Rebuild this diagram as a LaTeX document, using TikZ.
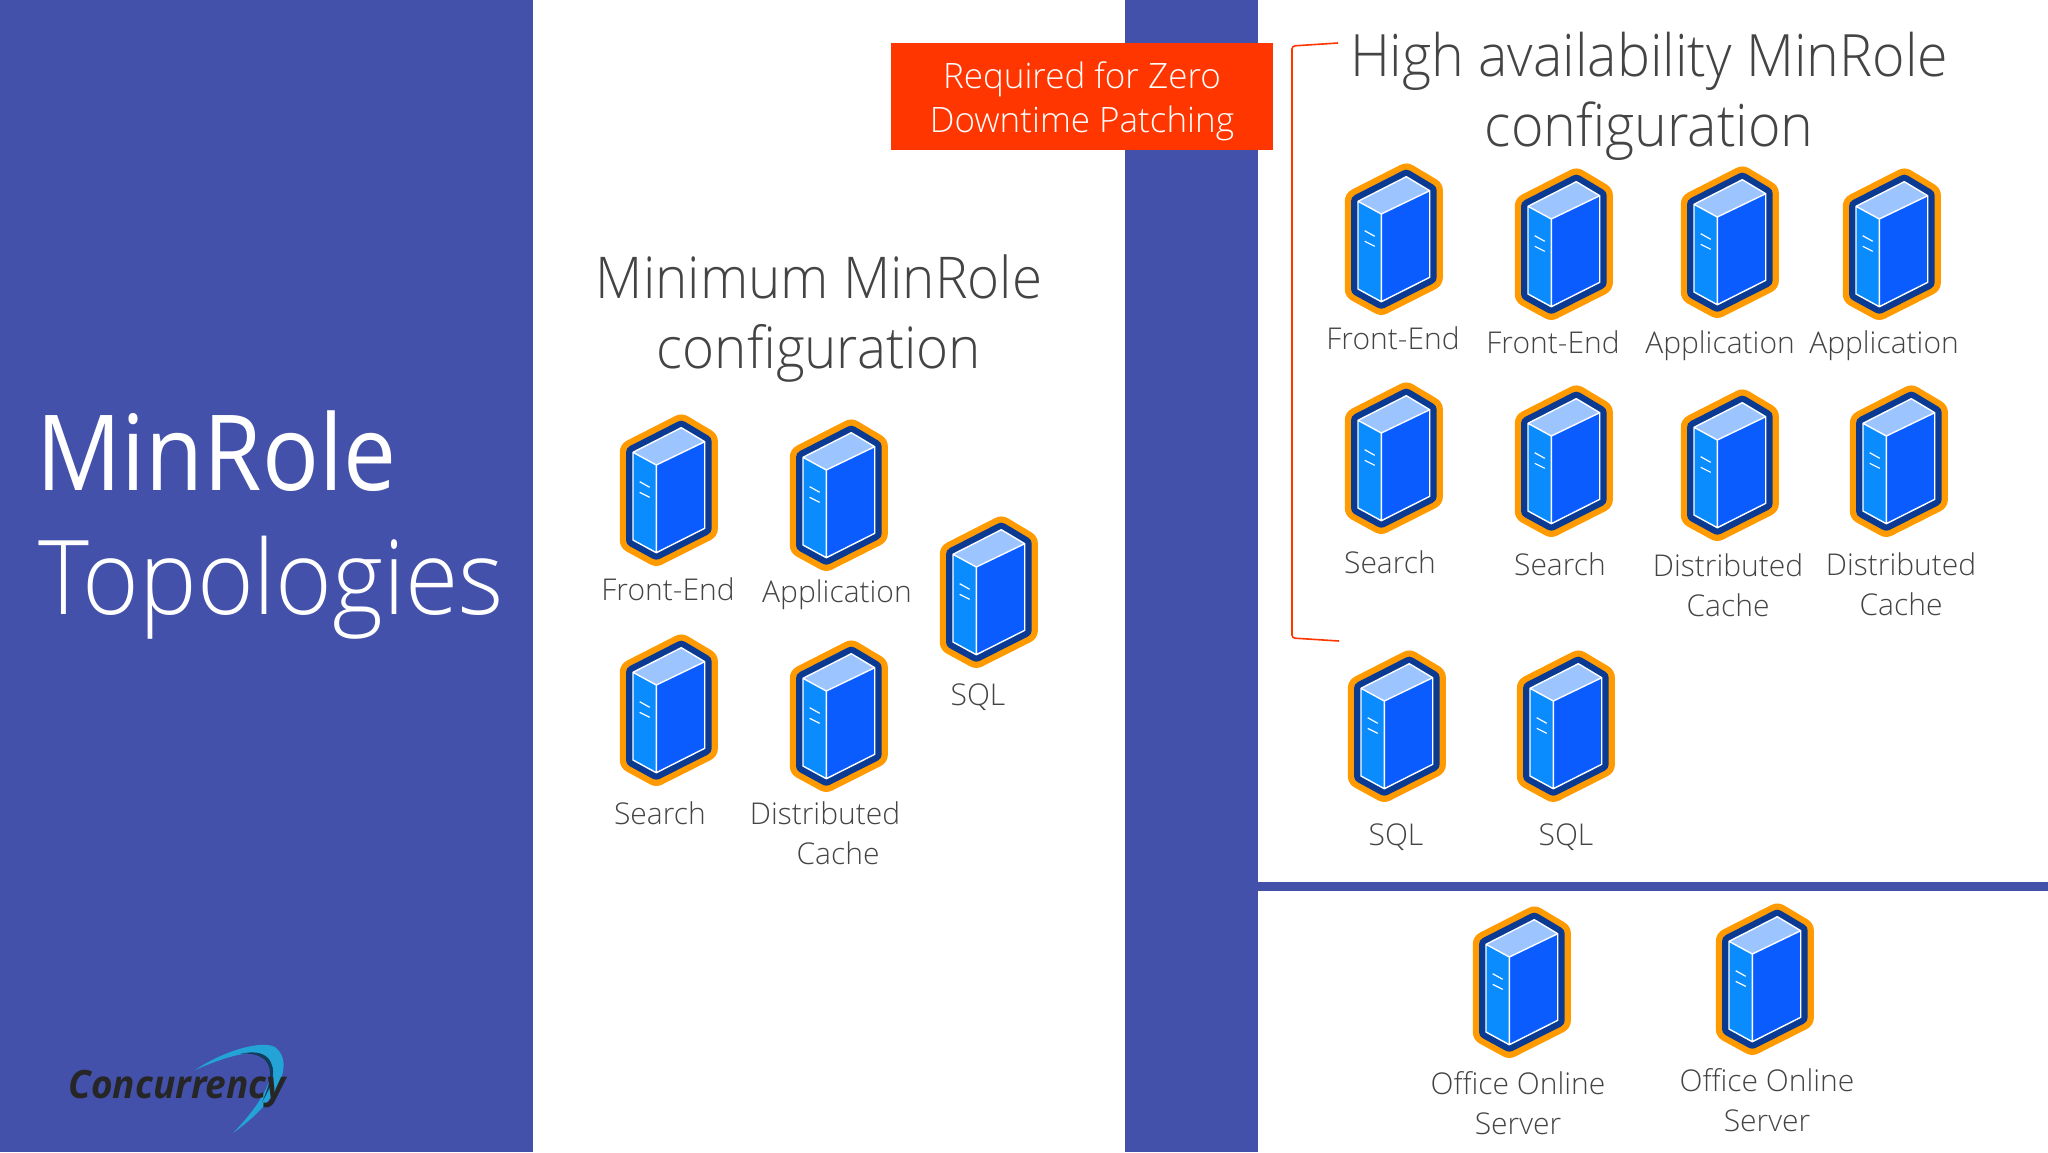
\documentclass[tikz,border=0pt]{standalone}
\usepackage{fontspec}
\setmainfont{Open Sans Light}
\newfontfamily\logofont{Open Sans}[FakeStretch=0.95]
\newfontfamily\titlefont{Open Sans Light}[FakeStretch=0.94]
\newfontfamily\titlereg{Open Sans}[FakeStretch=0.9]
\newfontfamily\headfont{Open Sans Light}[FakeStretch=0.95]
\definecolor{panelblue}{HTML}{4351AB}
\definecolor{tagred}{HTML}{FF3600}
\definecolor{txtgrey}{HTML}{444444}
\definecolor{ringorange}{HTML}{FF9A00}
\definecolor{ringnavy}{HTML}{0B3A93}
\definecolor{facetop}{HTML}{9CC4FF}
\definecolor{faceleft}{HTML}{0A8CFF}
\definecolor{faceright}{HTML}{0A5CFF}
\definecolor{swoosh}{HTML}{23A3D6}
\definecolor{swooshdark}{HTML}{123C5C}
\tikzset{
  lbl/.style={text=txtgrey,align=center,inner sep=0pt,font=\fontsize{15}{20}\selectfont},
  head/.style={text=txtgrey,align=center,inner sep=0pt},
  title/.style={anchor=base west,inner sep=0pt,text=white},
  server/.pic={
    \draw[ringorange,line width=13.2pt,line join=round,fill=ringorange]
      (12.3,-62.3) -- (35.7,-48.3) -- (35.7,38.3) -- (-12.7,62.7) -- (-36,50) -- (-36,-37.7) -- cycle;
    \draw[ringnavy,line width=7pt,line join=round,fill=ringnavy]
      (12.3,-62.3) -- (35.7,-48.3) -- (35.7,38.3) -- (-12.7,62.7) -- (-36,50) -- (-36,-37.7) -- cycle;
    \fill[facetop] (12.3,-62.3) -- (35.7,-48.3) -- (-12.7,-25) -- (-36,-37.7) -- cycle;
    \fill[faceleft] (-36,-37.7) -- (-12.7,-25) -- (-12.7,62.7) -- (-36,50) -- cycle;
    \fill[faceright] (-12.7,-25) -- (35.7,-48.3) -- (35.7,38.3) -- (-12.7,62.7) -- cycle;
    \draw[white,line width=0.7pt,line join=round]
      (12.3,-62.3) -- (35.7,-48.3) -- (35.7,38.3) -- (-12.7,62.7) -- (-36,50) -- (-36,-37.7) -- cycle
      (-36,-37.7) -- (-12.7,-25) -- (35.7,-48.3) (-12.7,-25) -- (-12.7,62.7);
    \draw[white,line width=0.6pt] (-29.3,-8.3) -- (-19.3,-2.7) (-29.3,2.3) -- (-19.3,7.3);
  }
}
\begin{document}
\begin{tikzpicture}[x=0.5pt,y=-0.5pt]
  \useasboundingbox (0,0) rectangle (2048,1152);

  % Paneles
  \fill[white] (0,0) rectangle (2048,1152);
  \fill[panelblue] (0,0) rectangle (533,1152);
  \fill[panelblue] (1125,0) rectangle (1258,1152);
  \fill[panelblue] (1258,882) rectangle (2048,891);

  % Titulo
  \node[title,font=\titlereg\fontsize{52.5}{54}\selectfont] (t1) at (36,490) {MinRole};
  \node[title,font=\titlefont\fontsize{51.6}{54}\selectfont] (t2) at (38,614) {Topologies};

  % Etiqueta roja y corchete
  \node[fill=tagred,minimum width=191pt,minimum height=53.5pt,inner sep=0pt] (tag) at (1082,96.5) {};
  \node[text=white,inner sep=0pt,align=center,font=\fontsize{17.5}{22}\selectfont] (tagtxt) at (1082,101.5) {Required for Zero\\Downtime Patching};
  \draw[tagred,line width=0.8pt,rounded corners=1.5pt] (1338,43) -- (1292,46) -- (1292,638) -- (1339,641);

  % Encabezados
  \node[head,font=\headfont\fontsize{28.8}{35}\selectfont] (hmin) at (819,318.5) {Minimum MinRole\\configuration};
  \node[head,font=\headfont\fontsize{29.2}{35}\selectfont] (hha) at (1649,96) {High availability MinRole\\configuration};

  % Minimo
  \pic at (669,490) {server};
  \pic at (839,495) {server};
  \pic at (989,592) {server};
  \pic at (669,710) {server};
  \pic at (839,716) {server};
  \node[lbl] (a1) at (668,589) {Front-End};
  \node[lbl] (a2) at (837,594.5) {Application};
  \node[lbl] (a3) at (978,697.5) {SQL};
  \node[lbl] (a4) at (660,813) {Search};
  \node[lbl] (a5) at (825,833) {Distributed\\\hspace*{13pt}Cache};

  % Alta disponibilidad
  \pic at (1394,239) {server};
  \pic at (1564,244) {server};
  \pic at (1730,242) {server};
  \pic at (1892,244) {server};
  \pic at (1394,458) {server};
  \pic at (1564,461) {server};
  \pic at (1730,465) {server};
  \pic at (1899,461) {server};
  \pic at (1397,726) {server};
  \pic at (1566,726) {server};
  \node[lbl] (b1) at (1393,338) {Front-End};
  \node[lbl] (b2) at (1553,342) {Front-End};
  \node[lbl] (b3) at (1720,346) {Application};
  \node[lbl] (b4) at (1884,346) {Application};
  \node[lbl] (b5) at (1390,562) {Search};
  \node[lbl] (b6) at (1560,564) {Search};
  \node[lbl] (b7) at (1728,585) {Distributed\\Cache};
  \node[lbl] (b8) at (1901,584) {Distributed\\Cache};
  \node[lbl] (b9) at (1396,837) {SQL};
  \node[lbl] (b10) at (1566,837) {SQL};

  % Office Online
  \pic at (1522,982) {server};
  \pic at (1765,979) {server};
  \node[lbl] (c1) at (1518,1103.5) {Office Online\\Server};
  \node[lbl] (c2) at (1767,1100) {Office Online\\Server};

  % Logo
  \fill[swoosh] (195,1070) .. controls (225,1050) and (262,1040) .. (275,1047)
    .. controls (295,1062) and (280,1100) .. (233,1133)
    .. controls (265,1100) and (280,1070) .. (265,1056)
    .. controls (250,1049) and (225,1057) .. (195,1070) -- cycle;
  \fill[swooshdark] (240,1054) .. controls (252,1051) and (262,1052) .. (268,1058)
    .. controls (278,1070) and (272,1085) .. (262,1102)
    .. controls (270,1084) and (274,1070) .. (265,1060)
    .. controls (258,1054) and (250,1053) .. (240,1054) -- cycle;
  \node[anchor=base west,inner sep=0pt,text=black!85,font=\logofont\bfseries\itshape\fontsize{19.5}{20}\selectfont] (logo) at (68,1098) {Concurrency};
\end{tikzpicture}
\end{document}
